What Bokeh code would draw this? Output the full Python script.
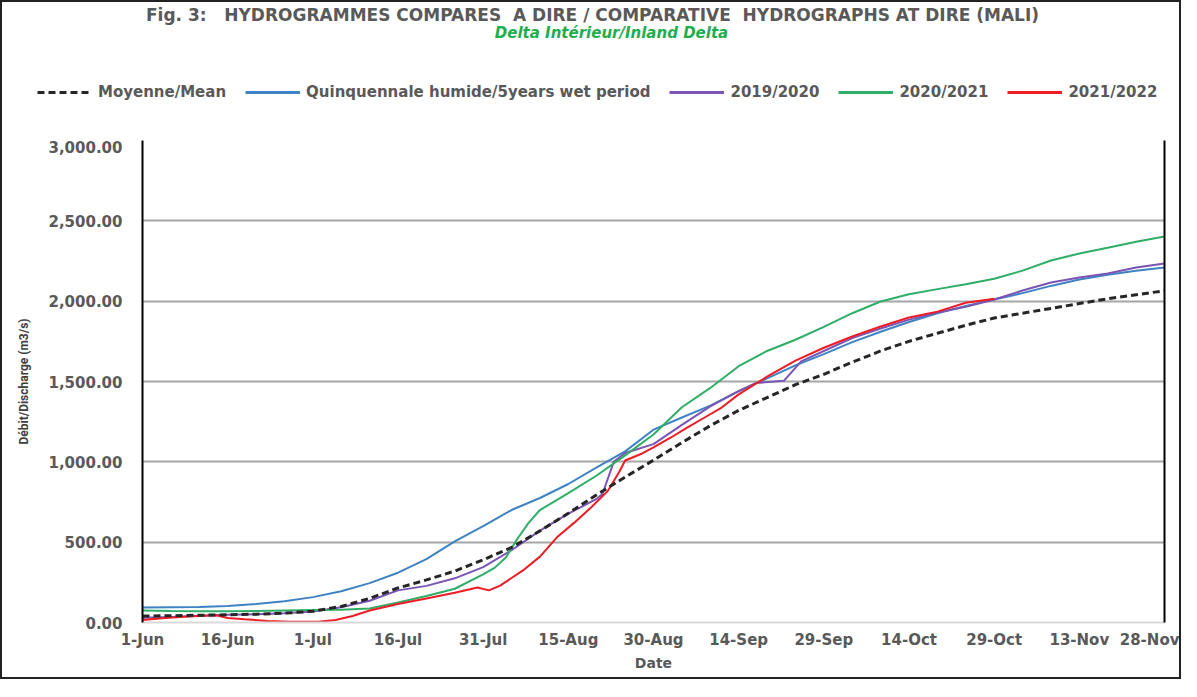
from bokeh.plotting import figure
from bokeh.models import (FixedTicker, NumeralTickFormatter, Legend, LegendItem,
                          Label, Range1d, LinearAxis)
from bokeh.embed import file_html
from bokeh.resources import INLINE

# ---------------- data (day offset from 1-Jun, discharge m3/s) ----------------
tick_days = [0, 15, 30, 45, 60, 75, 90, 105, 120, 135, 150, 165, 180]
tick_labels = ["1-Jun", "16-Jun", "1-Jul", "16-Jul", "31-Jul", "15-Aug", "30-Aug",
               "14-Sep", "29-Sep", "14-Oct", "29-Oct", "13-Nov", "28-Nov"]
y_ticks = [0, 500, 1000, 1500, 2000, 2500, 3000]

mean_days = list(range(0, 181, 5))
mean_q = [40, 42, 45, 48, 52, 58, 70, 100, 150, 215, 265, 320, 390, 467, 570, 680,
          795, 905, 1010, 1120, 1225, 1320, 1400, 1480, 1545, 1620, 1690, 1750, 1800,
          1850, 1895, 1925, 1955, 1985, 2015, 2040, 2065]

wet_days = list(range(0, 181, 5))
wet_q = [93, 95, 97, 103, 115, 132, 158, 195, 245, 310, 395, 505, 600, 700, 775, 862,
         965, 1065, 1200, 1276, 1350, 1440, 1520, 1600, 1670, 1745, 1810, 1870, 1925,
         1970, 2010, 2050, 2095, 2135, 2165, 2190, 2210]

y1920_days = [0, 5, 10, 15, 20, 25, 30, 35, 40, 45, 50, 55, 60, 65, 70, 75, 80, 81, 83,
              85, 90, 95, 100, 105, 108, 113, 116, 120, 125, 130, 135, 140, 145, 150,
              155, 160, 165, 170, 175, 180]
y1920_q = [30, 35, 42, 48, 52, 58, 68, 95, 135, 200, 228, 275, 345, 450, 572, 677, 770,
           800, 1000, 1055, 1110, 1230, 1345, 1440, 1490, 1505, 1625, 1690, 1770, 1830,
           1885, 1930, 1965, 2010, 2066, 2116, 2147, 2172, 2210, 2234]

y2021_days = [0, 5, 10, 15, 20, 25, 30, 35, 40, 45, 50, 55, 60, 62, 64, 66, 68, 70, 75,
              80, 85, 90, 95, 100, 105, 110, 115, 120, 125, 130, 135, 140, 145, 150,
              155, 160, 165, 170, 175, 180]
y2021_q = [75, 72, 70, 70, 72, 75, 78, 80, 87, 124, 165, 210, 300, 340, 405, 520, 620,
           700, 805, 915, 1040, 1170, 1340, 1460, 1595, 1690, 1760, 1840, 1925, 1998,
           2043, 2075, 2105, 2140, 2190, 2253, 2297, 2332, 2370, 2402]

y2122_days = [0, 4, 8, 13, 15, 18, 22, 26, 31, 34, 37, 40, 45, 50, 55, 59, 61, 63, 67,
              70, 73, 76, 79, 82, 84, 85, 88, 90, 93, 96, 99, 102, 105, 110, 115, 120,
              125, 130, 135, 140, 145, 150]
y2122_q = [15, 28, 38, 45, 28, 20, 10, 5, 5, 15, 40, 75, 115, 150, 185, 218, 200, 230,
           324, 410, 530, 620, 716, 821, 940, 1008, 1052, 1090, 1150, 1214, 1276, 1338,
           1420, 1530, 1630, 1710, 1780, 1842, 1898, 1935, 1990, 2015]

series_names = ["Moyenne/Mean", "Quinquennale humide/5years wet period",
                "2019/2020", "2020/2021", "2021/2022"]
series_colors = ["#262626", "#3f83c4", "#7b55b5", "#2eae66", "#ee1c25"]

NB = "\u00a0"
title_text = ("Fig. 3:" + NB * 3 + "HYDROGRAMMES COMPARES" + NB * 2 + "A DIRE / COMPARATIVE"
              + NB * 2 + "HYDROGRAPHS AT DIRE (MALI)")
subtitle_text = "Delta Intérieur/Inland Delta"
ylabel_text = "Débit/Discharge (m3/s)"

gray = "#595959"
W = 1181
HEAD_H = 140
BORDER = "2px solid #222"

# ---------------- header (titles + legend), a separate root ----------------
head = figure(width=W, height=HEAD_H, x_range=Range1d(0, W), y_range=Range1d(0, HEAD_H),
              output_backend="svg", toolbar_location=None,
              x_axis_location=None, y_axis_location=None,
              min_border_left=0, min_border_right=0, min_border_top=0, min_border_bottom=0,
              styles={"border-top": BORDER, "border-left": BORDER, "border-right": BORDER})
head.grid.visible = False
head.outline_line_color = None
head.background_fill_color = "white"
head.border_fill_color = "white"

head.add_layout(Label(x=590, y=HEAD_H - 12, text=title_text, text_align="center",
                      text_baseline="middle", text_font="DejaVu Sans", text_font_size="17px",
                      text_font_style="bold", text_color=gray))
head.add_layout(Label(x=609, y=HEAD_H - 30, text=subtitle_text, text_align="center",
                      text_baseline="middle", text_font="DejaVu Sans", text_font_size="15px",
                      text_font_style="bold italic", text_color="#1fae4e"))

nan = float("nan")
leg_renderers = []
for i, c in enumerate(series_colors):
    if i == 0:
        r = head.line([nan, nan], [nan, nan], line_color=c, line_width=3, line_dash="7 4")
    else:
        r = head.line([nan, nan], [nan, nan], line_color=c, line_width=3)
    leg_renderers.append(r)
legend = Legend(items=[LegendItem(label=n, renderers=[r]) for n, r in
                       zip(series_names, leg_renderers)],
                location=(35, 40), orientation="horizontal",
                glyph_width=55, label_standoff=6, spacing=19, padding=0, margin=0,
                border_line_color=None, background_fill_alpha=0,
                label_text_font="DejaVu Sans", label_text_font_size="15px",
                label_text_font_style="bold", label_text_color=gray)
head.add_layout(legend, "center")

# ---------------- main chart ----------------
p = figure(width=W, height=539, x_range=Range1d(0, 180), y_range=Range1d(0, 3000),
           output_backend="svg", toolbar_location=None,
           min_border_left=140, min_border_right=19, min_border_top=0,
           min_border_bottom=57,
           styles={"border-bottom": BORDER, "border-left": BORDER, "border-right": BORDER})
p.outline_line_color = None
p.background_fill_color = "white"
p.border_fill_color = "white"

p.xaxis.ticker = FixedTicker(ticks=tick_days)
p.xaxis.major_label_overrides = {d: l for d, l in zip(tick_days, tick_labels)}
p.yaxis.ticker = FixedTicker(ticks=y_ticks)
p.yaxis.formatter = NumeralTickFormatter(format="0,0.00")
for ax in (p.xaxis, p.yaxis):
    ax.major_tick_line_color = None
    ax.minor_tick_line_color = None
    ax.major_tick_out = 0
    ax.major_label_text_font = "DejaVu Sans"
    ax.major_label_text_font_size = "15px"
    ax.major_label_text_font_style = "bold"
    ax.major_label_text_color = gray
p.xaxis.major_label_standoff = 8
p.yaxis.major_label_standoff = 20
p.yaxis.axis_line_color = "black"
p.yaxis.axis_line_width = 2
p.xaxis.axis_line_color = "#d9d9d9"
p.xaxis.axis_line_width = 2
p.xaxis.axis_label = "Date"
p.xaxis.axis_label_text_font = "DejaVu Sans"
p.xaxis.axis_label_text_font_size = "14px"
p.xaxis.axis_label_text_font_style = "bold"
p.xaxis.axis_label_text_color = gray
p.xaxis.axis_label_standoff = 3
p.yaxis.axis_label = ylabel_text
p.yaxis.axis_label_text_font = "Roboto"
p.yaxis.axis_label_text_font_size = "12px"
p.yaxis.axis_label_text_font_style = "bold"
p.yaxis.axis_label_text_color = "#404040"
p.yaxis.axis_label_standoff = 14

right_axis = LinearAxis(ticker=FixedTicker(ticks=[]), axis_line_color="black",
                        axis_line_width=2, major_tick_line_color=None,
                        minor_tick_line_color=None, major_label_text_font_size="0px")
p.add_layout(right_axis, "right")

p.xgrid.visible = False
p.ygrid.ticker = FixedTicker(ticks=y_ticks[1:])
p.ygrid.grid_line_color = "#a6a6a6"
p.ygrid.grid_line_width = 2

p.line(wet_days, wet_q, line_color=series_colors[1], line_width=2)
p.line(y1920_days, y1920_q, line_color=series_colors[2], line_width=2)
p.line(y2021_days, y2021_q, line_color=series_colors[3], line_width=2)
p.line(y2122_days, y2122_q, line_color=series_colors[4], line_width=2)
p.line(mean_days, mean_q, line_color=series_colors[0], line_width=3, line_dash="7 4")

open("out.html", "w").write(file_html([head, p], INLINE))
